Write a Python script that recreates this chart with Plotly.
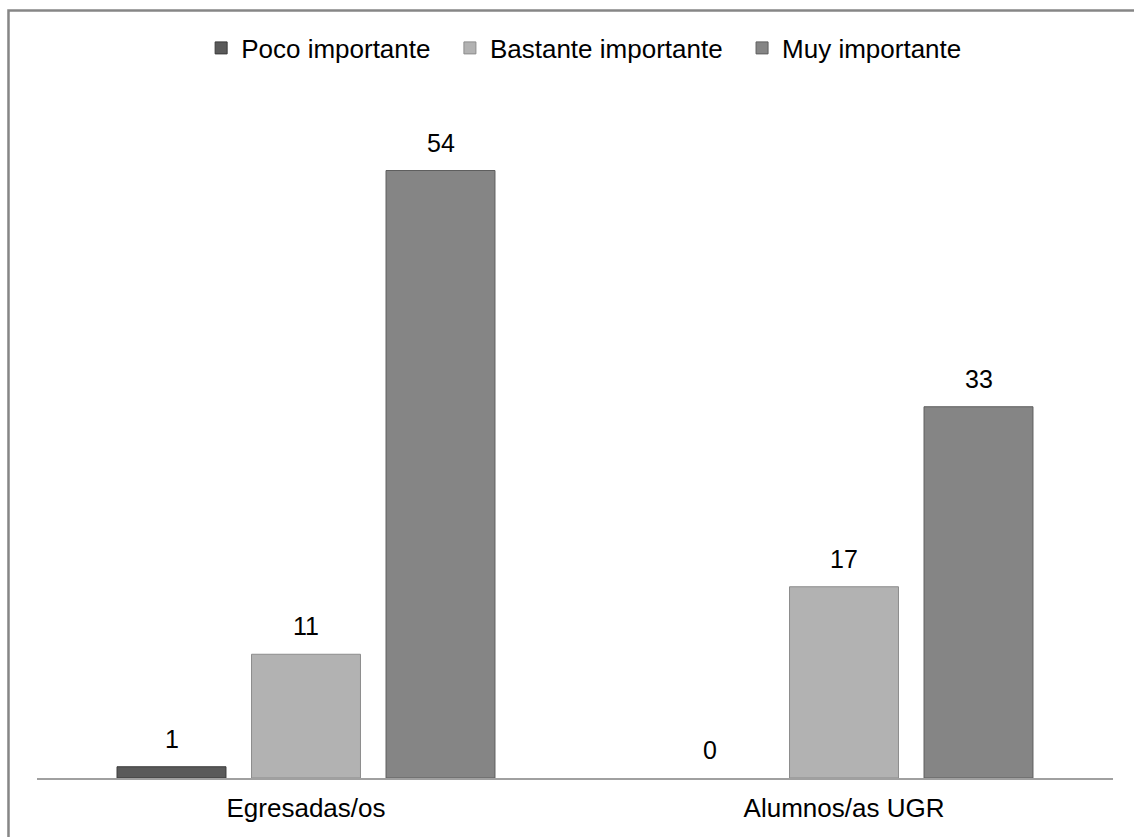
import plotly.graph_objects as go

categories = ["Egresadas/os", "Alumnos/as UGR"]
series_names = ["Poco importante", "Bastante importante", "Muy importante"]
poco = [1, 0]
bastante = [11, 17]
muy = [54, 33]

colors = ["#5a5a5a", "#b2b2b2", "#858585"]
edge = ["#3a3a3a", "#8c8c8c", "#5e5e5e"]
label_shift = [-134.5, 0, 134.5]

FONT = "Liberation Sans, Arial"

fig = go.Figure()
annotations = []
for name, vals, c, e, dx in zip(series_names, [poco, bastante, muy], colors, edge, label_shift):
    fig.add_trace(go.Bar(
        x=categories, y=vals, name=name + "\u00a0\u00a0",
        marker=dict(color=c, line=dict(color=e, width=[1 if v > 0 else 0 for v in vals])),
        hovertemplate="%{x}: %{y}<extra>" + name + "</extra>",
    ))
    for cat, v in zip(categories, vals):
        annotations.append(dict(
            x=cat, y=v, xref="x", yref="y", text=str(v), showarrow=False,
            xshift=dx, yshift=12, yanchor="bottom", xanchor="center",
            font=dict(family=FONT, size=25, color="#000000"),
        ))

fig.update_layout(
    width=1134, height=837,
    margin=dict(l=37, r=21, t=102.5, b=59, autoexpand=False),
    paper_bgcolor="white", plot_bgcolor="white",
    barmode="group", bargap=0.25, bargroupgap=0.19,
    font=dict(family=FONT, size=26, color="#000000"),
    legend=dict(orientation="h", x=0.515, xanchor="center",
                yref="container", y=1 - 48 / 837, yanchor="middle",
                font=dict(size=26), itemwidth=30, traceorder="normal",
                bgcolor="rgba(0,0,0,0)"),
    showlegend=True,
    annotations=annotations,
    xaxis=dict(showline=True, linecolor="#a0a0a0", linewidth=2, ticks="",
               tickfont=dict(size=26), showgrid=False, ticklabelstandoff=6),
    yaxis=dict(range=[0, 60], visible=False, showgrid=False),
    shapes=[dict(type="rect", xref="paper", yref="paper",
                 x0=-0.0265, x1=1.03, y0=-0.12, y1=(778 - 10) / 675.5,
                 line=dict(color="#868686", width=2.5), layer="above")],
)

fig.write_html("out.html")
